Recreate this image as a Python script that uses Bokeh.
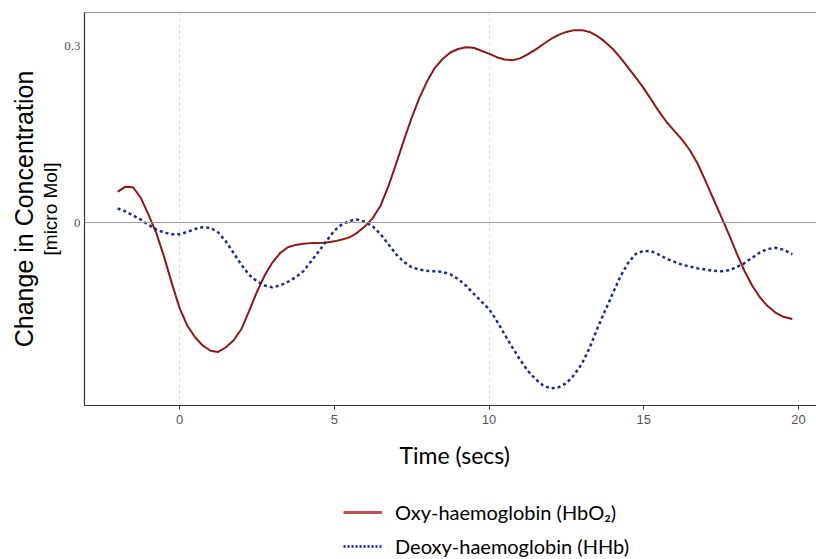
from bokeh.plotting import figure
from bokeh.layouts import column
from bokeh.models import Range1d, LinearAxis, FixedTicker, Span, Legend, LegendItem, Title
from bokeh.embed import file_html
from bokeh.resources import INLINE

# ---- data ----
time = [-2.0, -1.75, -1.5, -1.25, -1.0, -0.75, -0.5, -0.25, 0.0, 0.25, 0.5, 0.75,
        1.0, 1.25, 1.5, 1.75, 2.0, 2.25, 2.5, 2.75, 3.0, 3.25, 3.5, 3.75, 4.0, 4.25,
        4.5, 4.75, 5.0, 5.25, 5.5, 5.75, 6.0, 6.25, 6.5, 6.75, 7.0, 7.25, 7.5, 7.75,
        8.0, 8.25, 8.5, 8.75, 9.0, 9.25, 9.5, 9.75, 10.0, 10.25, 10.5, 10.75, 11.0,
        11.25, 11.5, 11.75, 12.0, 12.25, 12.5, 12.75, 13.0, 13.25, 13.5, 13.75, 14.0,
        14.25, 14.5, 14.75, 15.0, 15.25, 15.5, 15.75, 16.0, 16.25, 16.5, 16.75, 17.0,
        17.25, 17.5, 17.75, 18.0, 18.25, 18.5, 18.75, 19.0, 19.25, 19.5, 19.8]
hbo2 = [0.052, 0.061, 0.060, 0.042, 0.013, -0.018, -0.058, -0.103, -0.145, -0.175,
        -0.195, -0.209, -0.218, -0.220, -0.212, -0.200, -0.181, -0.150, -0.118, -0.090,
        -0.068, -0.052, -0.042, -0.038, -0.036, -0.035, -0.035, -0.034, -0.032, -0.029,
        -0.025, -0.017, -0.006, 0.008, 0.029, 0.062, 0.100, 0.140, 0.178, 0.212,
        0.240, 0.263, 0.278, 0.289, 0.295, 0.298, 0.297, 0.292, 0.287, 0.281,
        0.277, 0.276, 0.279, 0.286, 0.294, 0.303, 0.312, 0.319, 0.324, 0.327,
        0.327, 0.324, 0.317, 0.307, 0.295, 0.280, 0.263, 0.246, 0.228, 0.208,
        0.188, 0.170, 0.155, 0.140, 0.122, 0.099, 0.070, 0.040, 0.010, -0.020,
        -0.052, -0.082, -0.107, -0.127, -0.142, -0.153, -0.160, -0.164]
hhb = [0.024, 0.019, 0.012, 0.005, -0.004, -0.012, -0.017, -0.020, -0.020, -0.016,
       -0.011, -0.008, -0.009, -0.017, -0.032, -0.052, -0.072, -0.089, -0.100, -0.107,
       -0.110, -0.107, -0.101, -0.093, -0.083, -0.066, -0.049, -0.031, -0.014, -0.003,
       0.003, 0.005, 0.001, -0.007, -0.020, -0.037, -0.054, -0.067, -0.076, -0.080,
       -0.082, -0.083, -0.084, -0.088, -0.096, -0.107, -0.121, -0.134, -0.147, -0.167,
       -0.190, -0.212, -0.233, -0.252, -0.266, -0.277, -0.282, -0.280, -0.273, -0.259,
       -0.240, -0.213, -0.180, -0.150, -0.120, -0.091, -0.068, -0.053, -0.048, -0.049,
       -0.055, -0.062, -0.067, -0.072, -0.075, -0.078, -0.080, -0.082, -0.083, -0.081,
       -0.076, -0.069, -0.060, -0.051, -0.045, -0.043, -0.046, -0.054]
x_ticks = [0, 5, 10, 15, 20]
x_grid_ticks = [0, 10]
y_ticks = [0, 0.3]
y_tick_labels = {0: "0", 0.3: "0.3"}
series_labels = ["Oxy-haemoglobin (HbO\u2082)", "Deoxy-haemoglobin (HHb)"]
x_title = "Time (secs)"
y_title = "Change in Concentration"
y_unit = "[micro Mol]"

p = figure(width=816, height=490, output_backend="svg", toolbar_location=None,
           x_range=Range1d(-3.07, 20.58), y_range=Range1d(-0.311, 0.357),
           min_border_left=84, min_border_right=0, min_border_top=12,
           min_border_bottom=85)
p.outline_line_color = None
p.background_fill_color = "white"

# grid
p.ygrid.visible = False
p.xgrid.ticker = FixedTicker(ticks=x_grid_ticks)
p.xgrid.grid_line_color = "#d9d9d9"
p.xgrid.grid_line_dash = "3 3"
p.xgrid.grid_line_width = 1

# zero line and top border
p.add_layout(Span(location=0, dimension="width", line_color="#9a9a9a", line_width=1))
p.add_layout(Span(location=p.y_range.end, dimension="width", line_color="#333333", line_width=1.2))

# lines
p.line(time, hbo2, line_color="#8c1a12", line_width=2, line_join="round")
p.line(time, hhb, line_color="#1a2b8c", line_width=2.5, line_dash="3 3")

# x axis
xa = p.xaxis[0]
xa.ticker = FixedTicker(ticks=x_ticks)
xa.axis_line_color = "#333333"
xa.axis_line_width = 1.2
xa.major_tick_line_color = "#333333"
xa.major_tick_out = 4
xa.major_tick_in = 0
xa.minor_tick_line_color = None
xa.major_label_text_font = "Liberation Sans"
xa.major_label_text_font_size = "13px"
xa.major_label_text_color = "#555555"
xa.major_label_standoff = 5

# y axis
ya = p.yaxis[0]
ya.ticker = FixedTicker(ticks=y_ticks)
ya.major_label_overrides = y_tick_labels
ya.axis_line_color = "#333333"
ya.axis_line_width = 1.2
ya.major_tick_out = 0
ya.major_tick_in = 0
ya.minor_tick_line_color = None
ya.major_label_text_font = "Liberation Serif"
ya.major_label_text_font_size = "13px"
ya.major_label_text_color = "#555555"
ya.major_label_standoff = 4
ya.axis_label = y_unit
ya.axis_label_text_font = "Liberation Sans"
ya.axis_label_text_font_size = "19px"
ya.axis_label_text_font_style = "normal"
ya.axis_label_text_color = "black"
ya.axis_label_standoff = 0

ya2 = LinearAxis(ticker=FixedTicker(ticks=[]), axis_line_color=None,
                 major_tick_line_color=None, minor_tick_line_color=None,
                 axis_label=y_title, axis_label_text_font="Liberation Sans",
                 axis_label_text_font_size="25px", axis_label_text_font_style="normal",
                 axis_label_text_color="black", axis_label_standoff=0)
p.add_layout(ya2, "left")

# x title
p.add_layout(Title(text=x_title, align="left", offset=315, text_font="Lato",
                   text_font_size="23px", text_font_style="normal",
                   text_color="black", standoff=25), "below")

# legend strip below the chart (series drawn outside this strip's ranges,
# only their legend keys show)
q = figure(width=816, height=69, output_backend="svg", toolbar_location=None,
           x_range=Range1d(100, 101), y_range=Range1d(100, 101),
           x_axis_location=None, y_axis_location=None,
           min_border_left=0, min_border_right=0, min_border_top=0, min_border_bottom=0)
q.outline_line_color = None
q.grid.visible = False
r1 = q.line(time, hbo2, line_color="#c0504d", line_width=3)
r2 = q.line(time, hhb, line_color="#2e3a9e", line_width=3, line_dash="2 2")
legend = Legend(items=[LegendItem(label=series_labels[0], renderers=[r1]),
                       LegendItem(label=series_labels[1], renderers=[r2])],
                location=(259, 1), orientation="vertical",
                border_line_color=None, background_fill_alpha=0,
                padding=0, margin=0, spacing=10,
                glyph_width=39, glyph_height=24, label_height=24,
                label_standoff=13, label_text_font="Lato",
                label_text_font_size="20px", label_text_color="black")
q.add_layout(legend)

open("out.html", "w").write(file_html(column(p, q, spacing=0), INLINE))
